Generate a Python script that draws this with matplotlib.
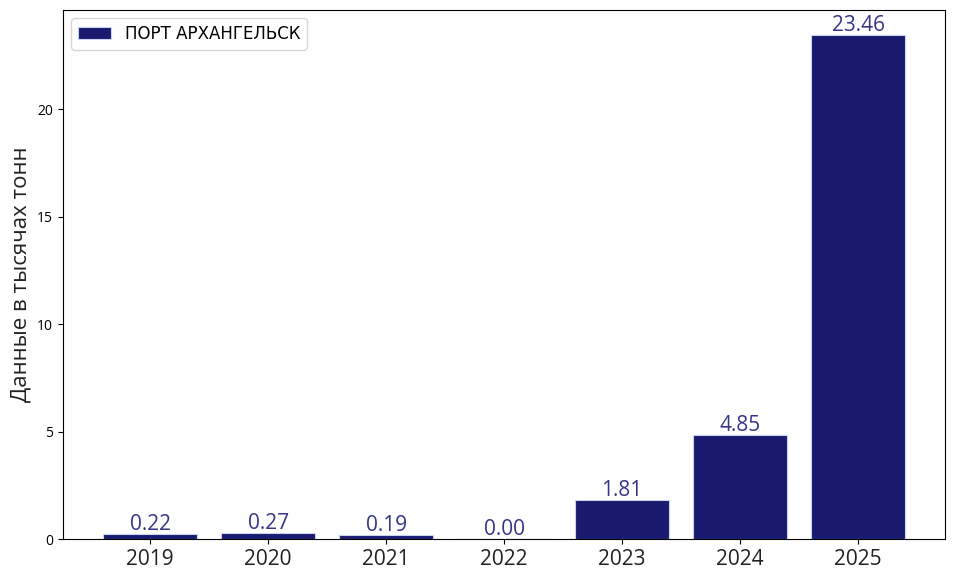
import matplotlib
matplotlib.use('Agg')
import matplotlib.pyplot as plt
import numpy as np

years = ['2019', '2020', '2021', '2022', '2023', '2024', '2025']
values = [0.22, 0.27, 0.19, 0.00, 1.81, 4.85, 23.46]
series_name = 'ПОРТ АРХАНГЕЛЬСК'
y_label = 'Данные в тысячах тонн'

BAR_COLOR = '#191970'
LABEL_COLOR = '#35358a'
TEXT_FONT = ['Open Sans', 'DejaVu Sans']

fig, ax = plt.subplots(figsize=(9.54, 5.79), dpi=100)
x = np.arange(len(years))
bars = ax.bar(x, values, width=0.8, color=BAR_COLOR, edgecolor='#c8d4ee',
              linewidth=0.8, label=series_name)

for bar, v in zip(bars, values):
    ax.text(bar.get_x() + bar.get_width() / 2, bar.get_height() - 0.05, f'{v:.2f}',
            ha='center', va='bottom', fontsize=15, color=LABEL_COLOR,
            family=TEXT_FONT)

ax.set_xticks(x)
ax.set_xticklabels(years, fontsize=15, family=TEXT_FONT, color='#222222')
for lbl in ax.get_yticklabels():
    lbl.set_family(TEXT_FONT)
ax.tick_params(axis='y', labelsize=10)
ax.set_ylim(0, max(values) * 1.05)
ax.set_ylabel(y_label, fontsize=16, family=TEXT_FONT, color='#222222')
ax.legend(loc='upper left', fontsize=12)

fig.subplots_adjust(left=0.066, right=0.991, top=0.983, bottom=0.069)
fig.savefig('out.png', dpi=100)
